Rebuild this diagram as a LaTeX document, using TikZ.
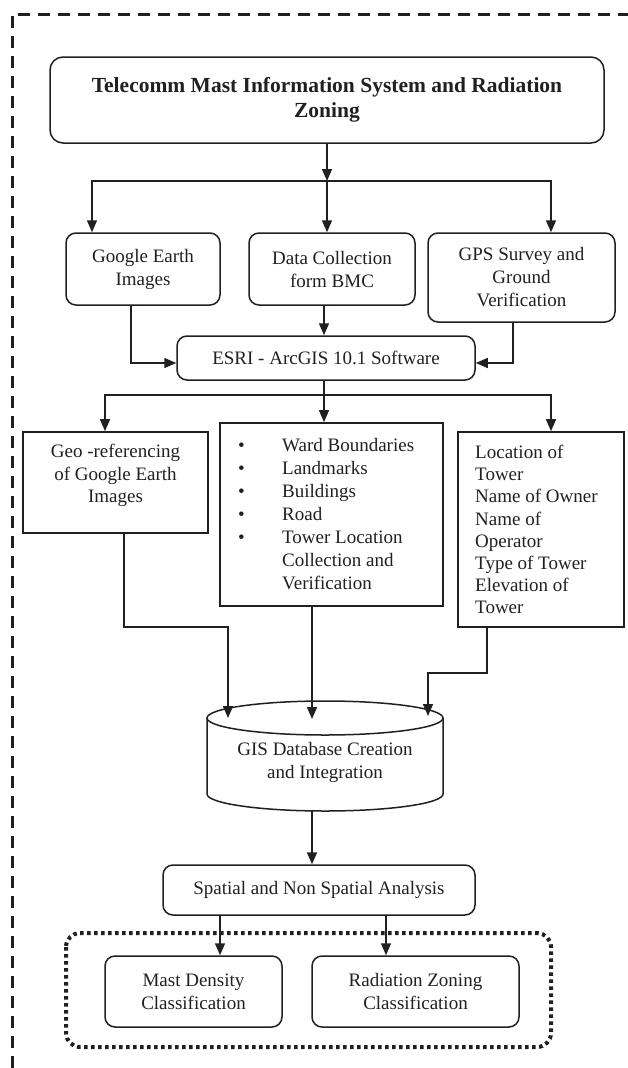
\documentclass[tikz,border=0pt]{standalone}
\usepackage{fontspec}
\setmainfont{Liberation Serif}
\usetikzlibrary{arrows.meta}
\definecolor{ink}{RGB}{35,31,32}
\tikzset{
 rbox/.style={draw=ink, line width=1.5pt, inner sep=0pt, rounded corners=10pt, text=ink, align=center, font=\fontsize{19}{23}\selectfont},
 sqbox/.style={draw=ink, line width=1.7pt, inner sep=0pt},
 txt/.style={text=ink, align=center, font=\fontsize{19}{23}\selectfont, inner sep=0pt},
 arr/.style={draw=ink, line width=1.5pt, -{Triangle[length=12pt,width=10pt]}},
 conn/.style={draw=ink, line width=1.5pt},
 outerframe/.style={draw=ink, line width=3pt, dash pattern=on 12pt off 8pt},
 dotframe/.style={draw=ink, line width=4pt, dash pattern=on 3.5pt off 3.5pt, rounded corners=14pt},
}
\begin{document}
\begin{tikzpicture}[x=1pt,y=-1pt]
\useasboundingbox (0,0) rectangle (628,1068);
% outer dashed frame
\draw[outerframe] (12,1068) -- (12,14) -- (628,14);

% title
\node[rbox, rounded corners=13pt, minimum width=554pt, minimum height=86pt,
      font=\fontsize{21.5}{25}\selectfont\bfseries] (title) at (327,100)
  {Telecomm Mast Information System and Radiation\\Zoning};

% first row
\node[rbox, minimum width=154pt, minimum height=72pt] (ge) at (143,269) {Google Earth\\Images};
\node[rbox, minimum width=166pt, minimum height=72pt] (dc) at (332,269) {Data Collection\\form BMC};
\node[rbox, minimum width=187pt, minimum height=89pt] (gps) at (521.5,277.5) {GPS Survey and\\Ground\\Verification};

% ESRI
\node[rbox, minimum width=298pt, minimum height=44pt] (esri) at (326,358) {ESRI - ArcGIS 10.1 Software};

% branch 1
\coordinate (b1) at (327,181);
\draw[arr] (title.south) -- (b1);
\draw[arr] (b1) -| ([xshift=-51pt]ge.north);
\draw[arr] (b1) -- ([xshift=-5pt]dc.north);
\draw[arr] (b1) -| ([xshift=29.5pt]gps.north);

% into ESRI
\draw[arr] ([xshift=-8pt]dc.south) -- ([xshift=-2pt]esri.north);
\draw[arr] ([xshift=-12pt]ge.south) |- ([yshift=-5pt]esri.west);
\draw[arr] ([xshift=-8.5pt]gps.south) |- ([yshift=-5pt]esri.east);

% second row boxes
\node[sqbox, minimum width=185pt, minimum height=101pt] (geo) at (115.5,482.5) {};
\node[txt, font=\fontsize{19}{22.5}\selectfont] (geot) at (115.5,475.5) {Geo -referencing\\of Google Earth\\Images};

\node[sqbox, minimum width=223pt, minimum height=183pt] (list) at (331.5,514.5) {};
\node[txt, align=left, anchor=west] (listt) at (238,514.5)
  {\makebox[44pt][l]{\textbullet}Ward Boundaries\\
   \makebox[44pt][l]{\textbullet}Landmarks\\
   \makebox[44pt][l]{\textbullet}Buildings\\
   \makebox[44pt][l]{\textbullet}Road\\
   \makebox[44pt][l]{\textbullet}Tower Location\\
   \hspace*{44pt}Collection and\\
   \hspace*{44pt}Verification};

\node[sqbox, minimum width=166pt, minimum height=195pt] (loc) at (541,529.5) {};
\node[txt, align=left, anchor=west, font=\fontsize{19}{22.1}\selectfont] (loct) at (475,529.5)
  {Location of\\Tower\\Name of Owner\\Name of\\Operator\\Type of Tower\\Elevation of\\Tower};

% branch 2
\coordinate (b2) at (324,395);
\draw[conn] ([xshift=-2pt]esri.south) -- (b2);
\draw[arr] (b2) -| ([xshift=-10.5pt]geo.north);
\draw[arr] (b2) -- ([xshift=-7.5pt]list.north);
\draw[arr] (b2) -| ([xshift=10pt]loc.north);

% database cylinder
\draw[conn] (207,718) -- (207,794) arc[start angle=180, end angle=360, x radius=118pt, y radius=17pt] -- (443,718);
\draw[conn] (325,718) ellipse[x radius=118pt, y radius=17pt];
\node[txt] (db) at (325,762) {GIS Database Creation\\and Integration};
\coordinate (dbin1) at (228,718);
\coordinate (dbin2) at (312,719);
\coordinate (dbin3) at (428,716);
\coordinate (dbout) at (312,811);

\draw[arr] ([xshift=8.5pt]geo.south) -- ++(0,93) -| (dbin1);
\draw[arr] ([xshift=-19.5pt]list.south) -- (dbin2);
\draw[arr] ([xshift=-54pt]loc.south) -- ++(0,45) -| (dbin3);

% analysis
\node[rbox, minimum width=312pt, minimum height=50pt] (spatial) at (319,890) {Spatial and Non Spatial Analysis};
\draw[arr] (dbout) -- ([xshift=-7pt]spatial.north);

% group
\draw[dotframe] (66,933) rectangle (551,1047);
\node[rbox, minimum width=177pt, minimum height=71pt] (mast) at (193.5,991.5) {Mast Density\\Classification};
\node[rbox, minimum width=207pt, minimum height=71pt] (rad) at (415.5,991.5) {Radiation Zoning\\Classification};
\draw[arr] ([xshift=-99pt]spatial.south) -- ([xshift=26.5pt]mast.north);
\draw[arr] ([xshift=67pt]spatial.south) -- ([xshift=-29.5pt]rad.north);
\end{tikzpicture}
\end{document}
